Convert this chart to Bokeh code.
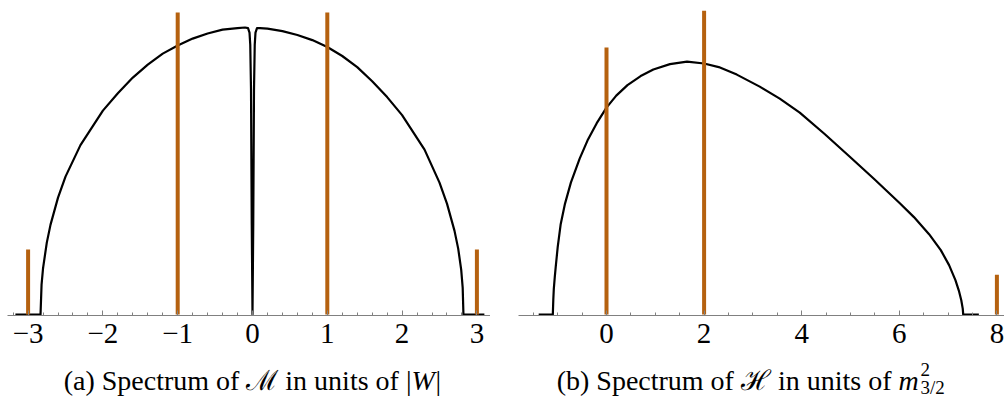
from bokeh.plotting import figure
from bokeh.layouts import column, row
from bokeh.models import Range1d, SingleIntervalTicker
from bokeh.core.properties import value
from bokeh.embed import file_html
from bokeh.resources import INLINE

# ---------------- data ----------------
# (a) continuous spectrum of M (density, arbitrary units)
m_curve_x = [-3.17, -2.834, -2.82, -2.80, -2.75, -2.70, -2.60, -2.50, -2.30, -2.00,
             -1.80, -1.60, -1.40, -1.20, -1.00, -0.80, -0.60, -0.40, -0.20, -0.10,
             -0.06, -0.04, -0.03, -0.02, -0.01, 0.0,
             0.01, 0.02, 0.03, 0.04, 0.06, 0.10, 0.20, 0.40, 0.60, 0.80,
             1.00, 1.20, 1.40, 1.60, 1.80, 2.00, 2.30, 2.50, 2.60, 2.70,
             2.75, 2.79, 2.81, 2.82, 3.10]
m_curve_y = [0.0, 0.0, 0.10, 0.155, 0.24, 0.30, 0.39, 0.46, 0.565, 0.68,
             0.738, 0.79, 0.833, 0.87, 0.897, 0.92, 0.937, 0.95, 0.955, 0.957,
             0.955, 0.94, 0.90, 0.75, 0.30, 0.0,
             0.30, 0.75, 0.90, 0.94, 0.955, 0.955, 0.953, 0.945, 0.932, 0.915,
             0.892, 0.862, 0.825, 0.778, 0.725, 0.665, 0.55, 0.44, 0.37, 0.28,
             0.22, 0.15, 0.09, 0.0, 0.0]
# (a) discrete eigenvalues of M (weights)
m_delta_x = [-3, -1, 1, 3]
m_delta_w = [0.217, 1.007, 1.007, 0.217]

# (b) continuous spectrum of H
h_curve_x = [-1.39, -1.10, -1.09, -1.08, -1.06, -1.04, -1.00, -0.94, -0.85, -0.73,
             -0.55, -0.39, -0.20, 0.0, 0.20, 0.43, 0.70, 0.96, 1.30, 1.65,
             2.00, 2.30, 2.67, 3.14, 3.55, 3.96, 4.47, 4.98, 5.49, 6.00,
             6.30, 6.61, 6.85, 7.02, 7.15, 7.22, 7.27, 7.30, 7.31, 7.63]
h_curve_y = [0.0, 0.0, 0.05, 0.085, 0.125, 0.16, 0.225, 0.30, 0.37, 0.44,
             0.52, 0.58, 0.638, 0.69, 0.73, 0.765, 0.795, 0.817, 0.835, 0.843,
             0.837, 0.825, 0.800, 0.760, 0.720, 0.673, 0.602, 0.527, 0.451, 0.373,
             0.325, 0.268, 0.215, 0.165, 0.115, 0.080, 0.048, 0.020, 0.0, 0.0]
# (b) discrete eigenvalues of H
h_delta_x = [0, 2, 8]
h_delta_w = [0.89, 1.013, 0.133]

# tick labels
m_ticks = [-3, -2, -1, 0, 1, 2, 3]
m_tick_labels = ["\u22123", "\u22122", "\u22121", "0", "1", "2", "3"]
h_ticks = [0, 2, 4, 6, 8]
h_tick_labels = ["0", "2", "4", "6", "8"]

cap_a_main = "(a) Spectrum of \u2133 in units of |"
cap_a_var = "W"
cap_a_end = "|"
cap_b_main = "(b) Spectrum of \u210b in units of "
cap_b_var = "m"
cap_b_sup = "2"
cap_b_sub = "3/2"

# ---------------- styling ----------------
CURVE = "black"
SPIKE = "#b5610f"
AXIS = "#808080"
FONT = "Liberation Serif"

PH = 360          # panel height
FRAME_H = 315     # frame height (axis line position)
Y0 = -0.003
Y1 = Y0 + FRAME_H / 300.0


def style_panel(p, ticks, labels, interval, minors):
    p.grid.visible = False
    p.outline_line_color = None
    p.background_fill_color = "white"
    p.border_fill_color = "white"
    ax = p.xaxis[0]
    ax.ticker = SingleIntervalTicker(interval=interval, num_minor_ticks=minors)
    ax.major_label_overrides = {t: l for t, l in zip(ticks, labels)}
    ax.axis_line_color = AXIS
    ax.axis_line_width = 1
    ax.major_tick_line_color = AXIS
    ax.minor_tick_line_color = AXIS
    ax.major_tick_in = 5
    ax.major_tick_out = 0
    ax.minor_tick_in = 3
    ax.minor_tick_out = 0
    ax.major_label_standoff = 8
    ax.major_label_text_font = FONT
    ax.major_label_text_font_size = "29px"
    ax.major_label_text_color = "black"


# ---------------- panel (a) ----------------
W1 = 490
L1 = 7
SC1 = 74.8
p1 = figure(width=W1, height=PH, output_backend="svg", toolbar_location=None,
            x_range=Range1d((L1 - 252) / SC1, (L1 - 252) / SC1 + (W1 - L1) / SC1),
            y_range=Range1d(Y0, Y1), y_axis_location=None,
            min_border_left=L1, min_border_right=0, min_border_top=0,
            min_border_bottom=PH - FRAME_H)
style_panel(p1, m_ticks, m_tick_labels, 1, 5)
p1.line(m_curve_x, m_curve_y, line_color=CURVE, line_width=2.2, line_join="round")
p1.segment(x0=m_delta_x, y0=[0] * len(m_delta_x), x1=m_delta_x, y1=m_delta_w,
           line_color=SPIKE, line_width=4)

# ---------------- panel (b) ----------------
W2 = 514
L2 = 28
SC2 = 48.8
p2 = figure(width=W2, height=PH, output_backend="svg", toolbar_location=None,
            x_range=Range1d(-88 / SC2, -88 / SC2 + (W2 - L2) / SC2),
            y_range=Range1d(Y0, Y1), y_axis_location=None,
            min_border_left=L2, min_border_right=0, min_border_top=0,
            min_border_bottom=PH - FRAME_H)
style_panel(p2, h_ticks, h_tick_labels, 2, 4)
p2.line(h_curve_x, h_curve_y, line_color=CURVE, line_width=2.2, line_join="round")
p2.segment(x0=h_delta_x, y0=[0] * len(h_delta_x), x1=h_delta_x, y1=h_delta_w,
           line_color=SPIKE, line_width=4)

# ---------------- captions ----------------
CW, CH = W1 + W2, 41
p3 = figure(width=CW, height=CH, output_backend="svg", toolbar_location=None,
            x_range=Range1d(0, CW), y_range=Range1d(0, CH),
            x_axis_location=None, y_axis_location=None, min_border=0)
p3.grid.visible = False
p3.outline_line_color = None
tf = value(FONT)
FS = "28px"
p3.text(x=[411], y=[21], text=[cap_a_main], text_font=tf, text_font_size=FS,
        text_align="right", text_baseline="alphabetic", text_color="black")
p3.text(x=[411], y=[21], text=[cap_a_var], text_font=tf, text_font_size=FS,
        text_font_style="italic", text_align="left", text_baseline="alphabetic",
        text_color="black")
p3.text(x=[435], y=[21], text=[cap_a_end], text_font=tf, text_font_size=FS,
        text_align="left", text_baseline="alphabetic", text_color="black")
p3.text(x=[898], y=[21], text=[cap_b_main], text_font=tf, text_font_size=FS,
        text_align="right", text_baseline="alphabetic", text_color="black")
p3.text(x=[898], y=[21], text=[cap_b_var], text_font=tf, text_font_size=FS,
        text_font_style="italic", text_align="left", text_baseline="alphabetic",
        text_color="black")
p3.text(x=[920], y=[32], text=[cap_b_sup], text_font=tf, text_font_size="19px",
        text_align="left", text_baseline="alphabetic", text_color="black")
p3.text(x=[920], y=[14], text=[cap_b_sub], text_font=tf, text_font_size="19px",
        text_align="left", text_baseline="alphabetic", text_color="black")

layout = column(row(p1, p2), p3)
open("out.html", "w").write(file_html(layout, INLINE))
